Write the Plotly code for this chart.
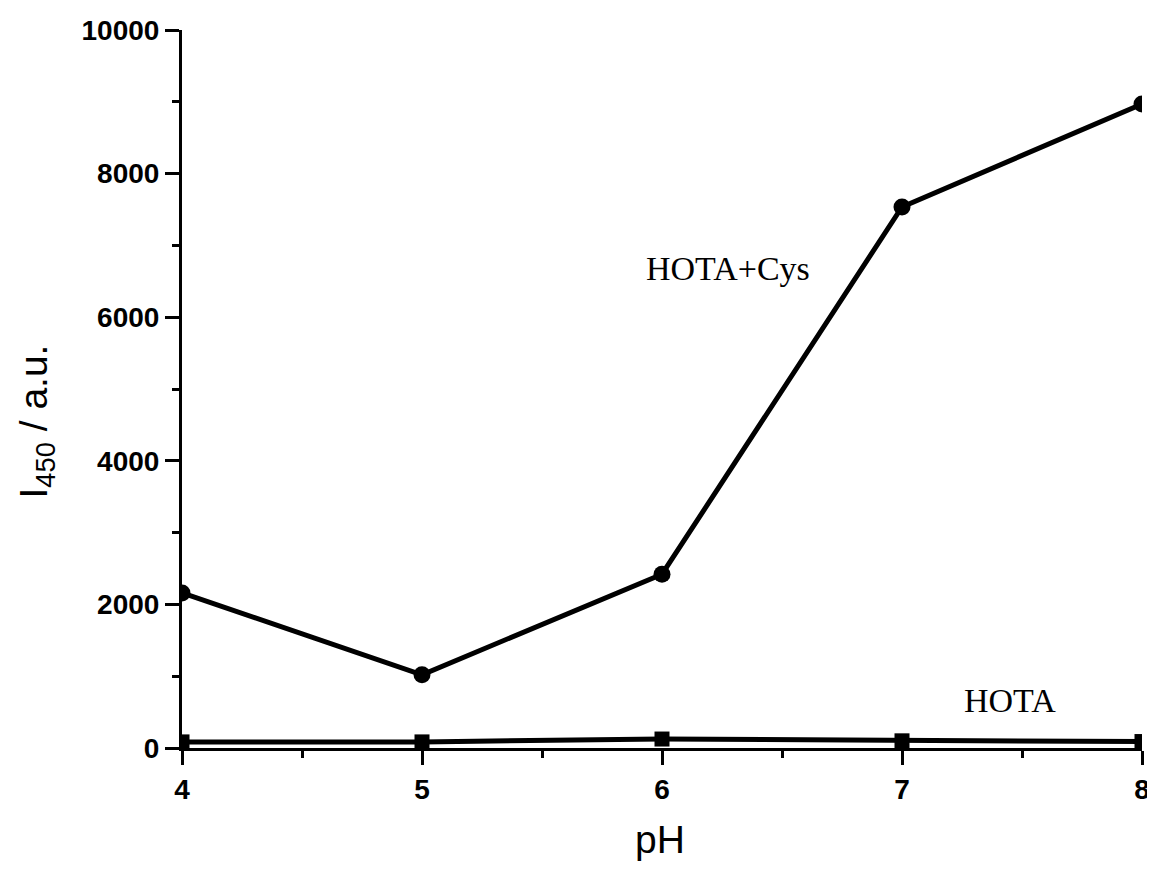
import plotly.graph_objects as go

ph = [4, 5, 6, 7, 8]
hota_cys = [2160, 1020, 2420, 7535, 8970]
hota = [85, 85, 125, 100, 90]
y_ticks = [0, 2000, 4000, 6000, 8000, 10000]
x_ticks = [4, 5, 6, 7, 8]

W, H = 1147, 855
L, R, T, B = 174, 13, 22, 115
plot_w = W - L - R
plot_h = H - T - B

fig = go.Figure()
fig.add_trace(go.Scatter(x=ph, y=hota, mode="lines+markers",
                         line=dict(color="black", width=5),
                         marker=dict(symbol="square", size=15, color="black"),
                         name="HOTA"))
fig.add_trace(go.Scatter(x=ph, y=hota_cys, mode="lines+markers",
                         line=dict(color="black", width=5),
                         marker=dict(symbol="circle", size=17, color="black"),
                         name="HOTA+Cys"))

fig.update_layout(
    width=W, height=H,
    margin=dict(l=L, r=R, t=T, b=B, autoexpand=False),
    plot_bgcolor="white", paper_bgcolor="white",
    showlegend=False,
    font=dict(family="Arial, Liberation Sans", color="black"),
    xaxis=dict(range=[4, 8], tickvals=x_ticks, showline=True, linecolor="black", linewidth=3,
               ticks="outside", ticklen=14, tickwidth=3, tickcolor="black",
               tickfont=dict(size=28, weight="bold"),
               showgrid=False, zeroline=False,
               minor=dict(dtick=0.5, tick0=4, ticks="outside", ticklen=7, tickwidth=3, tickcolor="black")),
    yaxis=dict(range=[0, 10000], tickvals=y_ticks, tickformat="d", showline=True, linecolor="black", linewidth=3,
               ticks="outside", ticklen=14, tickwidth=3, tickcolor="black",
               tickfont=dict(size=28, weight="bold"),
               showgrid=False, zeroline=False,
               minor=dict(dtick=1000, tick0=0, ticks="outside", ticklen=7, tickwidth=3, tickcolor="black")),
    annotations=[
        dict(x=6.275, y=6685, xref="x", yref="y", text="HOTA+Cys", showarrow=False,
             font=dict(family="Liberation Serif, Times New Roman", size=34)),
        dict(x=7.45, y=668, xref="x", yref="y", text="HOTA", showarrow=False,
             font=dict(family="Liberation Serif, Times New Roman", size=34)),
        dict(x=(1 - L) / plot_w, y=(740 - 414) / plot_h, xref="paper", yref="paper",
             xanchor="left", yanchor="middle",
             text="I<sub>450</sub> / a.u.", showarrow=False,
             textangle=-90, font=dict(size=39)),
        dict(x=(652 - L) / plot_w, y=(740 - 855) / plot_h, xref="paper", yref="paper",
             xanchor="center", yanchor="bottom",
             text="pH", showarrow=False, font=dict(size=39)),
    ],
)

fig.write_html("out.html")
